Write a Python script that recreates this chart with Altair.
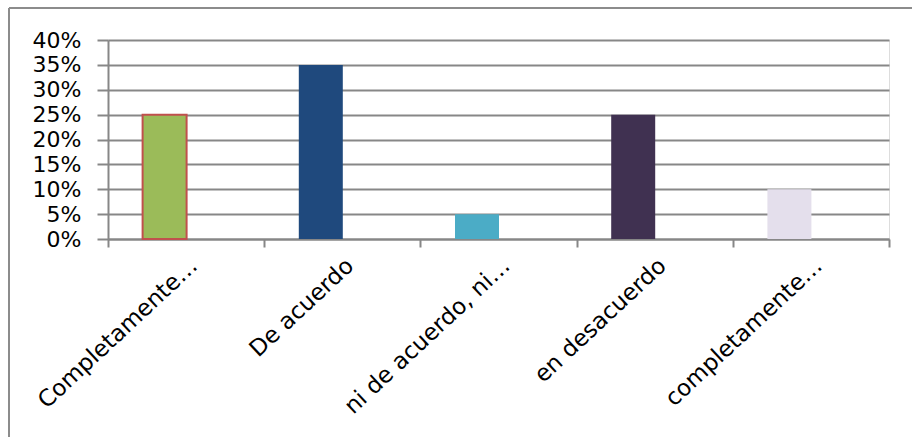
import altair as alt
import pandas as pd

categories = ["Completamente…", "De acuerdo", "ni de acuerdo, ni…", "en desacuerdo", "completamente…"]
values = [0.25, 0.35, 0.05, 0.25, 0.10]
colors = ["#9BBB59", "#1F497D", "#4BACC6", "#403151", "#E4DFEC"]
strokes = ["#C0504D", "#1F497D", "#4BACC6", "#403151", "#E4DFEC"]
y_ticks = [0, 0.05, 0.10, 0.15, 0.20, 0.25, 0.30, 0.35, 0.40]

df = pd.DataFrame({"cat": categories, "val": values, "color": colors, "stroke": strokes,
                   "sw": [2, 0, 0, 0, 0]})

W, H = 781, 199
FONT = "DejaVu Sans"
GRID = "#878787"

x_enc = alt.X("cat:N", sort=categories, title=None,
              scale=alt.Scale(paddingInner=0, paddingOuter=0),
              axis=alt.Axis(labelAngle=-43, labelAlign="right", labelBaseline="top",
                            labelFont=FONT, labelFontSize=23, labelColor="#000000",
                            labelPadding=7, labelOffset=0, labelLimit=400,
                            tickBand="extent", tickSize=8, tickColor=GRID, tickWidth=2,
                            domainColor=GRID, domainWidth=2, grid=False))
y_enc = alt.Y("val:Q", title=None,
              scale=alt.Scale(domain=[0, 0.4], nice=False),
              axis=alt.Axis(values=y_ticks, format=".0%", labelFont=FONT, labelFontSize=22,
                            labelColor="#000000", labelPadding=16, tickSize=11,
                            tickColor=GRID, tickWidth=2, domainColor=GRID, domainWidth=2,
                            gridColor=GRID, gridWidth=2, gridOpacity=1))

bars = alt.Chart(df).mark_bar(width=44, xOffset=-21.5).encode(
    x=x_enc, y=y_enc,
    color=alt.Color("color:N", scale=None),
    stroke=alt.Stroke("stroke:N", scale=None),
    strokeWidth=alt.StrokeWidth("sw:Q", scale=None),
)

border_top = alt.Chart(df).mark_rule(color="#8C8C8C", strokeWidth=2).encode(
    x=alt.value(-99), x2=alt.value(W + 40), y=alt.value(-32))
border_left = alt.Chart(df).mark_rule(color="#8C8C8C", strokeWidth=2).encode(
    x=alt.value(-99), y=alt.value(-32), y2=alt.value(H + 220))

chart = alt.layer(bars, border_top, border_left).properties(
    width=W, height=H,
    autosize=alt.AutoSizeParams(type="none"),
    padding={"left": 108, "top": 40, "right": 23, "bottom": 198},
).configure_view(stroke=None).configure(background="white")

chart.save("out.html", embed_options={"renderer": "svg", "actions": False})
